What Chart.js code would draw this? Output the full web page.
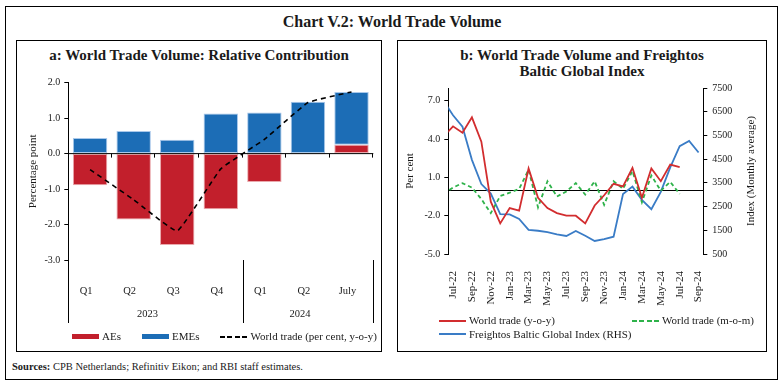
<!DOCTYPE html>
<html>
<head>
<meta charset="utf-8">
<script src="https://cdn.jsdelivr.net/npm/chart.js@4.4.1/dist/chart.umd.min.js"></script>
<style>
  body { margin: 0; width: 784px; height: 385px; background: #fff; position: relative; overflow: hidden;
         font-family: "Liberation Serif", serif; color: #1a1a1a; }
  .frame { position: absolute; left: 5px; top: 6px; width: 771px; height: 372px; border: 1px solid #000; }
  .main-title { position: absolute; left: 0; width: 784px; top: 12px; text-align: center; font-size: 16px; font-weight: bold; line-height: 20px; }
  .panel { position: absolute; top: 40px; height: 310px; border: 1px solid #000; }
  .panel-title { position: absolute; top: 47px; text-align: center; font-weight: bold; font-size: 15px; line-height: 16px; }
  canvas { position: absolute; }
  .legend { position: absolute; font-size: 11px; line-height: 13px; }
  .legend .item { display: flex; align-items: center; white-space: nowrap; }
  .legend .sw { width: 27px; margin-right: 3px; flex: none; }
  .sources { position: absolute; left: 12px; top: 360px; font-size: 10.5px; line-height: 14px; }
</style>
</head>
<body>
<div class="frame"></div>
<div class="main-title">Chart V.2: World Trade Volume</div>
<div class="panel" style="left:16px;width:364px"></div>
<div class="panel" style="left:397px;width:368px"></div>
<div class="panel-title" style="left:16px;width:366px">a: World Trade Volume: Relative Contribution</div>
<div class="panel-title" style="left:397px;width:370px">b: World Trade Volume and Freightos<br>Baltic Global Index</div>
<canvas id="chart-a" width="363" height="310" style="left:17px;top:41px"></canvas>
<canvas id="chart-b" width="367" height="250" style="left:398px;top:70px"></canvas>
<div class="legend" id="legend-a" style="left:72px;top:330px;display:flex;gap:21px"></div>
<div class="legend" id="legend-b" style="left:439px;top:314px;display:grid;grid-template-columns:193px auto;row-gap:0.6px"></div>
<div class="sources"><b>Sources:</b> CPB Netherlands; Refinitiv Eikon; and RBI staff estimates.</div>

<script>
// panel a: contributions, percentage points
const quarterLabels = ['Q1', 'Q2', 'Q3', 'Q4', 'Q1', 'Q2', 'July'];
const yearGroups = [['2023', 0, 3], ['2024', 4, 6]];
const aesValues = [-0.89, -1.86, -2.58, -1.57, -0.80, -0.02, 0.25];
const emesValues = [0.44, 0.64, 0.39, 1.13, 1.16, 1.46, 1.49];
const worldTradeValues = [-0.45, -1.3, -2.18, -0.43, 0.4, 1.44, 1.74];

// panel b: monthly, Jun-22 only feeds the clipped start of the lines
const monthLabels = ['Jun-22', 'Jul-22', 'Aug-22', 'Sep-22', 'Oct-22', 'Nov-22', 'Dec-22',
  'Jan-23', 'Feb-23', 'Mar-23', 'Apr-23', 'May-23', 'Jun-23', 'Jul-23', 'Aug-23', 'Sep-23',
  'Oct-23', 'Nov-23', 'Dec-23', 'Jan-24', 'Feb-24', 'Mar-24', 'Apr-24', 'May-24', 'Jun-24',
  'Jul-24', 'Aug-24', 'Sep-24'];
const monthTicks = [1, 3, 5, 7, 9, 11, 13, 15, 17, 19, 21, 23, 25, 27];
const yoyValues = [4.2, 5.0, 4.5, 5.7, 3.8, -0.9, -2.6, -1.4, -1.6, 1.7, -0.6, -1.4, -1.8,
  -2.0, -2.0, -2.6, -1.2, -0.4, 0.5, 0.3, 1.75, -0.6, 1.7, 0.7, 2.0, 1.8];
const momValues = [-0.3, 0.2, 0.55, 0.2, -0.7, -1.8, -0.45, -0.2, 0.1, 1.6, -1.35, 0.7, -0.5,
  -0.1, 0.55, -0.35, 0.7, -1.15, 0.7, 0.1, 1.5, -0.95, 1.15, -0.05, 0.65, -0.3];
const fbxValues = [6950, 6350, 5870, 4470, 3450, 3050, 2180, 2170, 1980, 1520, 1480, 1420, 1330,
  1260, 1470, 1270, 1050, 1130, 1230, 3030, 3340, 2780, 2390, 3120, 4150, 5050, 5270, 4780];
const percentTicks = [-5, -2, 1, 4, 7];

const RED_BAR = '#c21f2c', BLUE_BAR = '#1c6db6';
const RED_LINE = '#d22d2f', BLUE_LINE = '#3a7cc6', GREEN_LINE = '#2eb24a';

Chart.defaults.font.family = '"Liberation Serif", serif';
Chart.defaults.font.size = 11;
Chart.defaults.color = '#1a1a1a';

const quarterAxisExtras = {
  id: 'quarterAxisExtras',
  afterDatasetsDraw(chart) {
    const {ctx, chartArea: area, scales: {x, y}} = chart;
    const half = (x.getPixelForValue(1) - x.getPixelForValue(0)) / 2;
    const y0 = y.getPixelForValue(0);
    ctx.save();
    ctx.strokeStyle = '#000';
    ctx.lineWidth = 1;
    ctx.beginPath();
    ctx.moveTo(area.left, y0);
    ctx.lineTo(area.right, y0);
    quarterLabels.forEach((q, i) => {
      const bx = Math.round(x.getPixelForValue(i) + half) - 0.5;
      ctx.moveTo(bx, y0);
      ctx.lineTo(bx, y0 + 4);
    });
    const seps = [x.getPixelForValue(0) - half].concat(yearGroups.map(g => x.getPixelForValue(g[2]) + half));
    seps.forEach(sx => {
      sx = Math.round(sx) + 0.5;
      ctx.moveTo(sx, area.bottom);
      ctx.lineTo(sx, area.bottom + 63);
    });
    ctx.stroke();
    ctx.fillStyle = '#1a1a1a';
    ctx.font = '10.5px "Liberation Serif"';
    ctx.textAlign = 'center';
    ctx.textBaseline = 'middle';
    yearGroups.forEach(g => {
      const cx = (x.getPixelForValue(g[1]) + x.getPixelForValue(g[2])) / 2 - 8;
      ctx.fillText(g[0], cx, area.bottom + 54);
    });
    ctx.restore();
  }
};

const indexAxisExtras = {
  id: 'indexAxisExtras',
  beforeDatasetsDraw(chart) {
    const {ctx, chartArea: area, scales: {y}} = chart;
    const y0 = Math.round(y.getPixelForValue(0)) + 0.5;
    ctx.save();
    ctx.strokeStyle = '#000';
    ctx.lineWidth = 1;
    ctx.beginPath();
    ctx.moveTo(area.left, y0);
    ctx.lineTo(area.right, y0);
    ctx.stroke();
    ctx.restore();
  },
  afterDraw(chart) {
    const {ctx, chartArea: area, scales: {y1}} = chart;
    ctx.save();
    ctx.translate(y1.right - 14, (area.top + area.bottom) / 2);
    ctx.rotate(-Math.PI / 2);
    ctx.font = '11px "Liberation Serif"';
    ctx.fillStyle = '#1a1a1a';
    ctx.textAlign = 'center';
    ctx.textBaseline = 'middle';
    ctx.fillText('Index (Monthly average)', 0, 0);
    ctx.restore();
  }
};

const chartA = new Chart(document.getElementById('chart-a'), {
  type: 'bar',
  data: {
    labels: quarterLabels,
    datasets: [
      { label: 'AEs', data: aesValues, backgroundColor: RED_BAR, borderColor: '#eaa9ad', borderWidth: 1,
        borderSkipped: false, stack: 'contrib', order: 2 },
      { label: 'EMEs', data: emesValues, backgroundColor: BLUE_BAR, borderColor: '#a9c8ea', borderWidth: 1,
        borderSkipped: false, stack: 'contrib', order: 2 },
      { type: 'line', label: 'World trade (per cent, y-o-y)', data: worldTradeValues, borderColor: '#000',
        borderWidth: 1.6, borderDash: [5, 4], pointRadius: 0, tension: 0.1, stack: 'total', order: 1 }
    ]
  },
  options: {
    responsive: false,
    animation: false,
    layout: { padding: { top: 41.7, right: 6.7, left: 0, bottom: 0 } },
    plugins: { legend: { display: false }, tooltip: { enabled: false } },
    datasets: { bar: { categoryPercentage: 1, barPercentage: 0.79 } },
    scales: {
      x: {
        stacked: true,
        grid: { display: false },
        border: { display: false },
        ticks: { padding: 17, labelOffset: -4, font: { size: 10.5 } },
        afterFit(scale) { scale.height = 91; }
      },
      y: {
        stacked: true,
        min: -3, max: 2,
        ticks: { stepSize: 1, padding: 4, font: { size: 10 }, callback: v => v.toFixed(1) },
        grid: { drawOnChartArea: false, tickLength: 4, color: '#000' },
        border: { color: '#000', width: 1 },
        title: { display: true, text: 'Percentage point', padding: { top: 10, bottom: 0 }, font: { size: 11 } },
        afterFit(scale) { scale.width = 51.3; }
      }
    }
  },
  plugins: [quarterAxisExtras]
});

const toPoints = arr => arr.map((v, i) => ({ x: i, y: v }));

const chartB = new Chart(document.getElementById('chart-b'), {
  type: 'line',
  data: {
    datasets: [
      { label: 'World trade (y-o-y)', data: toPoints(yoyValues), borderColor: RED_LINE, borderWidth: 1.8,
        pointRadius: 0, tension: 0, yAxisID: 'y' },
      { label: 'World trade (m-o-m)', data: toPoints(momValues), borderColor: GREEN_LINE, borderWidth: 1.8,
        borderDash: [4, 3], pointRadius: 0, tension: 0, yAxisID: 'y' },
      { label: 'Freightos Baltic Global Index (RHS)', data: toPoints(fbxValues), borderColor: BLUE_LINE,
        borderWidth: 1.8, pointRadius: 0, tension: 0, yAxisID: 'y1' }
    ]
  },
  options: {
    responsive: false,
    animation: false,
    layout: { padding: { top: 18, right: 0, left: 0, bottom: 0 } },
    plugins: { legend: { display: false }, tooltip: { enabled: false } },
    scales: {
      x: {
        type: 'linear',
        min: 0.5, max: 27.5,
        grid: { display: false },
        border: { display: false },
        ticks: { padding: 9, minRotation: 90, maxRotation: 90, font: { size: 11 },
                 callback: v => monthLabels[v] },
        afterBuildTicks(scale) { scale.ticks = monthTicks.map(v => ({ value: v })); },
        afterFit(scale) { scale.height = 66; }
      },
      y: {
        position: 'left',
        min: -5, max: 8,
        ticks: { padding: 4, font: { size: 10 }, callback: v => v.toFixed(1) },
        afterBuildTicks(scale) { scale.ticks = percentTicks.map(v => ({ value: v })); },
        grid: { drawOnChartArea: false, tickLength: 4, color: '#000' },
        border: { color: '#000', width: 1 },
        title: { display: true, text: 'Per cent', padding: { top: 6, bottom: 0 }, font: { size: 11 } },
        afterFit(scale) { scale.width = 50.3; }
      },
      y1: {
        position: 'right',
        min: 500, max: 7500,
        ticks: { stepSize: 1000, padding: 5, font: { size: 10 }, callback: v => String(v) },
        grid: { drawOnChartArea: false, tickLength: 4, color: '#000' },
        border: { color: '#000', width: 1 },
        afterFit(scale) { scale.width = 61.7; }
      }
    }
  },
  plugins: [indexAxisExtras]
});

// html legends, built from the dataset settings
function swatch(kind, color) {
  const s = document.createElement('span');
  s.className = 'sw';
  if (kind === 'box') {
    s.style.height = '5px';
    s.style.background = color;
  } else if (kind === 'dash') {
    s.style.height = '2px';
    s.style.background = 'repeating-linear-gradient(90deg,' + color + ' 0 5px, transparent 5px 7.5px)';
  } else {
    s.style.height = '2px';
    s.style.background = color;
  }
  return s;
}
function fillLegend(el, items) {
  items.forEach(it => {
    const d = document.createElement('div');
    d.className = 'item';
    d.appendChild(swatch(it.kind, it.color));
    d.appendChild(document.createTextNode(it.label));
    el.appendChild(d);
  });
}
const dsA = chartA.data.datasets, dsB = chartB.data.datasets;
fillLegend(document.getElementById('legend-a'), [
  { label: dsA[0].label, kind: 'box', color: RED_BAR },
  { label: dsA[1].label, kind: 'box', color: BLUE_BAR },
  { label: dsA[2].label, kind: 'dash', color: '#000' }
]);
fillLegend(document.getElementById('legend-b'), [
  { label: dsB[0].label, kind: 'line', color: RED_LINE },
  { label: dsB[1].label, kind: 'dash', color: GREEN_LINE },
  { label: dsB[2].label, kind: 'line', color: BLUE_LINE }
]);
</script>
</body>
</html>
